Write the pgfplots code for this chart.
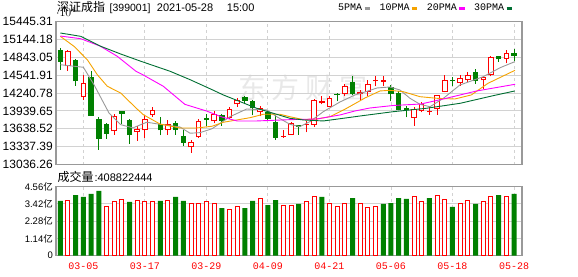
\documentclass[border=0pt]{standalone}
\usepackage{pgfplots}
\usepackage{pgfplotstable}
\pgfplotsset{compat=1.18}
\usepackage{fontspec}
\setmainfont{Liberation Sans}
\newfontfamily\cjk{Noto Sans CJK SC}
\newfontfamily\mono{Liberation Mono}
\definecolor{upred}{HTML}{FF0000}
\definecolor{dngreen}{HTML}{008000}
\definecolor{maA}{HTML}{999999}
\definecolor{maB}{HTML}{F5A300}
\definecolor{maC}{HTML}{FF00FF}
\definecolor{maD}{HTML}{006E32}
\definecolor{framec}{HTML}{999999}
\definecolor{gridc}{HTML}{D2D2D2}

\pgfplotstableread{
i o h l c
0 14968 14997 14632 14767
1 14690 14958 14616 14941
2 14795 14817 14364 14438
3 14169 14538 14129 14404
4 14505 14606 13855 13860
5 13804 13838 13289 13474
6 13720 13737 13474 13558
7 13598 13893 13541 13850
8 13934 13940 13720 13893
9 13788 13809 13390 13531
10 13581 13682 13440 13636
11 13615 13877 13485 13809
12 13867 14006 13838 13956
13 13720 13838 13531 13615
14 13615 13788 13541 13720
15 13732 13776 13541 13615
16 13519 13615 13356 13401
17 13329 13452 13238 13413
18 13497 13804 13490 13766
19 13821 13893 13692 13788
20 13766 13934 13732 13883
21 13867 13880 13692 13771
22 13821 14011 13804 13972
23 14051 14157 14011 14119
24 14174 14196 14051 14102
25 14102 14124 13867 13985
26 13917 14028 13850 13989
27 13922 13956 13793 13809
28 13749 13877 13457 13485
29 13502 13620 13485 13524
30 13541 13759 13535 13732
31 13704 13710 13541 13670
32 13709 13766 13581 13726
33 13709 14140 13675 14124
34 14068 14196 14051 14102
35 14011 14191 14005 14157
36 14232 14241 14102 14215
37 14219 14392 14196 14354
38 14426 14522 14202 14224
39 14229 14291 14129 14253
40 14258 14464 14196 14387
41 14438 14522 14354 14459
42 14432 14522 14354 14452
43 14347 14381 14102 14219
44 14236 14275 13950 13960
45 13984 14028 13833 13958
46 13821 14011 13692 13967
47 13944 14090 13917 14051
48 13918 14011 13877 13936
49 13972 14213 13877 14202
50 14258 14538 14250 14454
51 14464 14505 14354 14448
52 14414 14538 14364 14493
53 14459 14594 14426 14538
54 14594 14644 14392 14438
55 14454 14510 14313 14505
56 14538 14857 14522 14846
57 14863 14868 14767 14807
58 14812 14963 14740 14913
59 14918 14980 14774 14868
}\candles

\pgfplotstableread{
i v u
0 3.62 0
1 3.62 1
2 4.01 0
3 3.88 0
4 4.08 0
5 4.28 0
6 3.26 1
7 3.55 1
8 3.73 1
9 3.55 0
10 3.62 1
11 3.55 1
12 3.55 1
13 3.62 0
14 3.66 1
15 3.88 0
16 3.62 0
17 3.42 1
18 3.48 1
19 3.55 1
20 3.48 1
21 3.15 0
22 3.06 1
23 3.22 1
24 3.15 0
25 3.62 0
26 3.79 1
27 3.35 0
28 3.68 0
29 3.33 1
30 3.33 1
31 3.42 0
32 3.55 1
33 3.92 1
34 3.88 0
35 3.42 1
36 3.26 1
37 3.48 1
38 3.81 0
39 3.42 1
40 3.20 1
41 3.26 1
42 3.42 0
43 3.48 0
44 3.81 0
45 3.75 0
46 3.92 1
47 3.55 1
48 3.81 0
49 3.99 1
50 3.73 1
51 3.22 0
52 3.42 1
53 3.66 1
54 3.42 0
55 3.55 1
56 3.88 1
57 4.01 0
58 3.88 1
59 4.09 0
}\vol

\pgfplotstableread{
x y
0 14716
3 14673
4.38 14380
6.33 13905
7.85 13709
9.45 13655
11.24 13750
12.96 13715
15.56 13670
16.87 13565
18.17 13575
19.73 13640
22.07 13843
24.24 13972
26.84 13956
28.14 13843
29.85 13715
31.15 13675
32.45 13759
34.2 13927
36.37 14090
38.32 14208
39.62 14258
41.18 14325
42.87 14342
44.17 14291
45.47 14152
46.77 14051
48.07 14010
49.8 14150
51.96 14375
55.0 14515
57.2 14666
59.1 14767
}\maFive

\pgfplotstableread{
x y
0 15193
1.78 15025
3.51 14800
4.81 14548
6.11 14354
7.85 14241
9.84 13989
10.79 13877
12.96 13720
15.56 13653
17.74 13653
19.73 13682
21.2 13749
24.67 13826
26.4 13883
28.57 13883
29.85 13843
31.6 13793
33.34 13804
35.07 13843
37.24 13984
39.62 14157
41.57 14275
42.87 14286
44.6 14263
46.77 14179
48.95 14152
51.3 14140
53.45 14208
55.62 14404
59.13 14622
}\maTen

\pgfplotstableread{
x y
0 15198
2.65 15153
5.16 15030
7.41 14857
9.84 14606
10.75 14546
13.39 14354
16.2 14050
19 13939
21 13838
23 13771
25.54 13771
29.87 13793
33.34 13804
36.37 13872
38.32 13939
40.27 13989
43.3 14031
46.9 14056
49.8 14140
54.15 14275
59.13 14387
}\maTwenty

\pgfplotstableread{
x y
0 15249
2.65 15193
5.25 15026
7.85 14896
10.36 14779
14.27 14606
16.87 14465
19.73 14297
21.2 14208
25.54 13984
28.14 13883
29.85 13816
31.6 13788
34.2 13771
36.8 13816
39 13855
43.3 13927
47.6 13984
52 14068
56.3 14196
59.1 14275
}\maThirty

\pgfplotsset{kbase/.style={
  scale only axis, anchor=south west, xmin=-0.56, xmax=60.04,
  axis line style={draw=framec, line width=1.2pt},
  major tick length=0pt, tick style={draw=none},
  xtick={3,11,19,27,35,43,51,59},
  xmajorgrids, ymajorgrids,
  major x grid style={draw=gridc, dash pattern=on 3pt off 3pt, line width=0.9pt},
  major y grid style={draw=gridc, line width=0.9pt},
  yticklabel style={anchor=east, inner sep=0pt, xshift=-3pt, text=black},
}}

\begin{document}
\begin{tikzpicture}
\useasboundingbox (0pt,0pt) rectangle (578pt,276pt);
\node[text=black!9, font=\cjk\fontsize{28}{28}\selectfont, inner sep=0pt] at (303pt,188pt) {东\hspace{6pt}方\hspace{6pt}财\hspace{6pt}富};

\begin{axis}[kbase, at={(56pt,111.3pt)}, width=466pt, height=143.4pt,
  ymin=13036.26, ymax=15445.31,
  ytick={13036.26,13337.39,13638.52,13939.65,14240.78,14541.91,14843.05,15144.18,15445.31},
  yticklabels={13036.26,13337.39,13638.52,13939.65,14240.78,14541.91,14843.05,15144.18,15445.31},
  yticklabel style={font=\fontsize{12}{12}\selectfont},
  xticklabels={},
  legend columns=4, legend plot pos=right,
  legend style={at={(0.603,1.0907)}, anchor=west, draw=none, fill=none, inner sep=0pt,
    font=\mono\fontsize{10}{10}\selectfont, nodes={inner sep=1pt},
    /tikz/every even column/.append style={column sep=7pt}},
  legend image code/.code={\draw[#1, line width=2.8pt, line cap=butt] (0pt,0pt) -- (5.5pt,0pt);},
]
% wicks
\addplot[forget plot, draw=none, mark=none,
  restrict expr to domain={\thisrow{c}-\thisrow{o}}{0:5000},
  error bars/.cd, y dir=plus, y explicit, error mark=none,
  error bar style={draw=upred, line width=1pt}]
  table[x=i, y=l, y error plus expr=\thisrow{h}-\thisrow{l}] {\candles};
\addplot[forget plot, draw=none, mark=none,
  restrict expr to domain={\thisrow{c}-\thisrow{o}}{-5000:-0.01},
  error bars/.cd, y dir=plus, y explicit, error mark=none,
  error bar style={draw=dngreen, line width=1pt}]
  table[x=i, y=l, y error plus expr=\thisrow{h}-\thisrow{l}] {\candles};
% green bodies
\addplot[forget plot, draw=none, mark=none,
  restrict expr to domain={\thisrow{c}-\thisrow{o}}{-5000:-0.01},
  error bars/.cd, y dir=plus, y explicit, error mark=none,
  error bar style={draw=dngreen, line width=5.5pt}]
  table[x=i, y=c, y error plus expr=\thisrow{o}-\thisrow{c}] {\candles};
% red bodies (outer)
\addplot[forget plot, draw=none, mark=none,
  restrict expr to domain={\thisrow{c}-\thisrow{o}}{0:5000},
  error bars/.cd, y dir=plus, y explicit, error mark=none,
  error bar style={draw=upred, line width=5.5pt}]
  table[x=i, y=o, y error plus expr=\thisrow{c}-\thisrow{o}] {\candles};
% red bodies (hollow inside)
\addplot[forget plot, draw=none, mark=none,
  restrict expr to domain={\thisrow{c}-\thisrow{o}}{40:5000},
  error bars/.cd, y dir=plus, y explicit, error mark=none,
  error bar style={draw=white, line width=3.5pt}]
  table[x=i, y expr=\thisrow{o}+17, y error plus expr=\thisrow{c}-\thisrow{o}-34] {\candles};
% moving averages
\addplot[maA, line width=0.9pt, mark=none] table[x=x, y=y] {\maFive};
\addlegendentry{5PMA}
\addplot[maB, line width=0.9pt, mark=none] table[x=x, y=y] {\maTen};
\addlegendentry{10PMA}
\addplot[maC, line width=0.9pt, mark=none] table[x=x, y=y] {\maTwenty};
\addlegendentry{20PMA}
\addplot[maD, line width=0.9pt, mark=none] table[x=x, y=y] {\maThirty};
\addlegendentry{30PMA}
\end{axis}

\begin{axis}[kbase, at={(56pt,20.3pt)}, width=466pt, height=69pt,
  ymin=0, ymax=4.56, ytick={0,1.14,2.28,3.42,4.56},
  yticklabels={0,{1.14{\cjk 亿}},{2.28{\cjk 亿}},{3.42{\cjk 亿}},{4.56{\cjk 亿}}},
  yticklabel style={font=\fontsize{9.5}{9.5}\selectfont},
  xticklabels={03-05,03-17,03-29,04-09,04-21,05-06,05-18,05-28},
  xticklabel style={anchor=base, inner sep=0pt, yshift=-13.6pt, text=upred, font=\mono\fontsize{10}{10}\selectfont},
]
\addplot[ybar, bar width=5pt, bar shift=0pt, fill=dngreen, draw=none,
  restrict expr to domain={\thisrow{u}}{-0.5:0.5}] table[x=i, y=v] {\vol};
\addplot[ybar, bar width=4pt, bar shift=0pt, fill=white, draw=upred, line width=1pt,
  restrict expr to domain={\thisrow{u}}{0.5:1.5}] table[x=i, y=v] {\vol};
\end{axis}

\node[anchor=base west, inner sep=0pt, font=\cjk\fontsize{12}{12}\selectfont] at (57pt,264.3pt) {深证成指};
\node[anchor=base west, inner sep=0pt, font=\fontsize{10.5}{10.5}\selectfont] at (109.5pt,264.3pt) {[399001]};
\node[anchor=base west, inner sep=0pt, font=\fontsize{11}{11}\selectfont] at (156.7pt,264.3pt) {2021-05-28};
\node[anchor=base west, inner sep=0pt, font=\fontsize{11}{11}\selectfont] at (226.7pt,264.3pt) {15:00};
\node[anchor=base west, inner sep=0pt, font=\cjk\fontsize{12}{12}\selectfont] at (57.3pt,94.3pt) {成交量};
\node[anchor=base west, inner sep=0pt, font=\fontsize{11}{11}\selectfont] at (94.3pt,94.3pt) {:408822444};
\end{tikzpicture}
\end{document}
